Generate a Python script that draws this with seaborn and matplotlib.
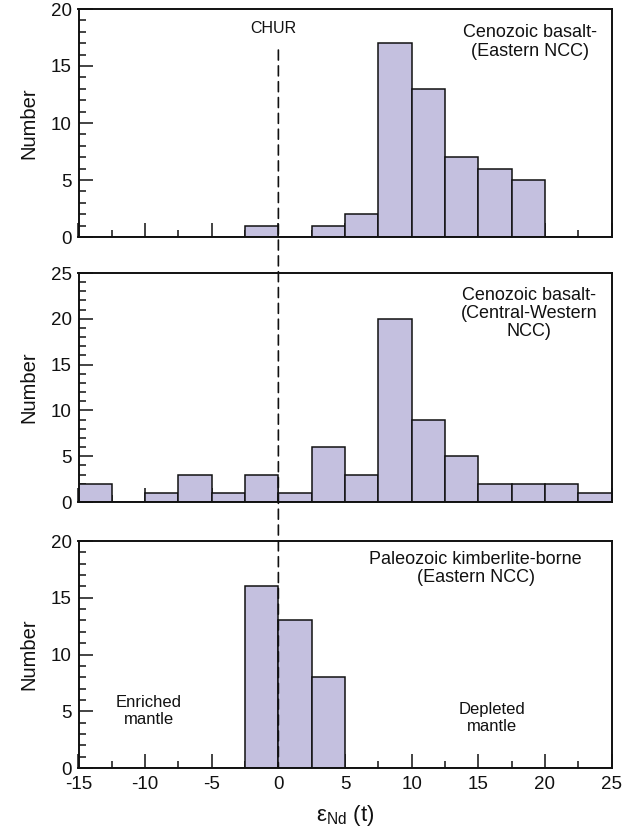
import numpy as np
import pandas as pd
import seaborn as sns
import matplotlib.pyplot as plt
import matplotlib.transforms as mtransforms
from matplotlib.patches import ConnectionPatch
from matplotlib.ticker import MultipleLocator

# bin edges of the epsilon Nd(t) histograms (2.5 wide, -15 .. 25)
bin_edges = [-15, -12.5, -10, -7.5, -5, -2.5, 0, 2.5, 5, 7.5, 10, 12.5, 15, 17.5, 20, 22.5, 25]

# counts per bin
east_ceno = [0, 0, 0, 0, 0, 1, 0, 1, 2, 17, 13, 7, 6, 5, 0, 0]
cw_ceno = [2, 0, 1, 3, 1, 3, 1, 6, 3, 20, 9, 5, 2, 2, 2, 1]
paleo_kimb = [0, 0, 0, 0, 0, 16, 13, 8, 0, 0, 0, 0, 0, 0, 0, 0]

panel_titles = ["Cenozoic basalt-\n(Eastern NCC)",
                "Cenozoic basalt-\n(Central-Western\nNCC)",
                "Paleozoic kimberlite-borne\n(Eastern NCC)"]
panel_ymax = [20, 25, 20]
title_pos = [(18.9, 17.1), (18.8, 20.6), (14.8, 17.6)]

sns.set_style("ticks")
plt.rcParams['font.family'] = ['Liberation Sans', 'DejaVu Sans']
plt.rcParams['axes.unicode_minus'] = False

bar_color = "#c4c0df"
ink = "#111111"
centers = [(a + b) / 2 for a, b in zip(bin_edges[:-1], bin_edges[1:])]

fig = plt.figure(figsize=(6.26, 8.30), dpi=100)
left, width = 78.5 / 626, 533 / 626
rows = [(9, 237), (273, 502), (541, 768)]
axes = []
for top, bot in rows:
    axes.append(fig.add_axes([left, 1 - bot / 830, width, (bot - top) / 830]))

for i, (ax, counts) in enumerate(zip(axes, [east_ceno, cw_ceno, paleo_kimb])):
    df = pd.DataFrame({"eps": centers, "n": counts})
    sns.histplot(data=df, x="eps", weights="n", bins=bin_edges, ax=ax,
                 color=bar_color, alpha=1, edgecolor=ink, linewidth=1.1)
    ax.set_xlim(-15, 25)
    ax.set_ylim(0, panel_ymax[i])
    ax.xaxis.set_major_locator(MultipleLocator(5))
    ax.xaxis.set_minor_locator(MultipleLocator(2.5))
    ax.yaxis.set_major_locator(MultipleLocator(5))
    ax.yaxis.set_minor_locator(MultipleLocator(1))
    ax.tick_params(which="both", direction="in", top=False, right=False, width=1.1, color=ink)
    ax.tick_params(which="major", length=10, labelsize=13.5, pad=5, labelcolor=ink)
    ax.tick_params(axis="x", pad=6)
    ax.tick_params(which="minor", length=5)
    for sp in ax.spines.values():
        sp.set_linewidth(1.4)
        sp.set_color(ink)
    ax.set_ylabel("Number", fontsize=14.5, labelpad=9, color=ink)
    ax.set_xlabel("")
    if i < 2:
        ax.tick_params(axis="x", labelbottom=False)
    ax.text(title_pos[i][0], title_pos[i][1], panel_titles[i], ha="center", va="center",
            multialignment="center", fontsize=13, linespacing=1.1, color=ink)

# lift the "0" label of the lowest panel a little, as in the original
fig.canvas.draw()
lbl0 = axes[2].get_yticklabels()[0]
lbl0.set_transform(lbl0.get_transform() + mtransforms.ScaledTranslation(0, 4 / 100, fig.dpi_scale_trans))

axes[2].set_xlabel("ε$_{\\mathregular{Nd}}$ (t)", fontsize=16, labelpad=7, color=ink)
axes[2].text(-9.7, 5.0, "Enriched\nmantle", ha="center", va="center", fontsize=12, color=ink)
axes[2].text(16.0, 4.4, "Depleted\nmantle", ha="center", va="center", fontsize=12, color=ink)

# CHUR reference line through all three panels
axes[0].text(-0.4, 18.3, "CHUR", ha="center", va="center", fontsize=11.5, color=ink)
con = ConnectionPatch(xyA=(0, 16.4), coordsA=axes[0].transData,
                      xyB=(0, 0), coordsB=axes[2].transData,
                      linestyle=(0, (6, 3.5)), linewidth=1.2, color=ink, zorder=5)
fig.add_artist(con)

fig.savefig("out.png", dpi=100)
